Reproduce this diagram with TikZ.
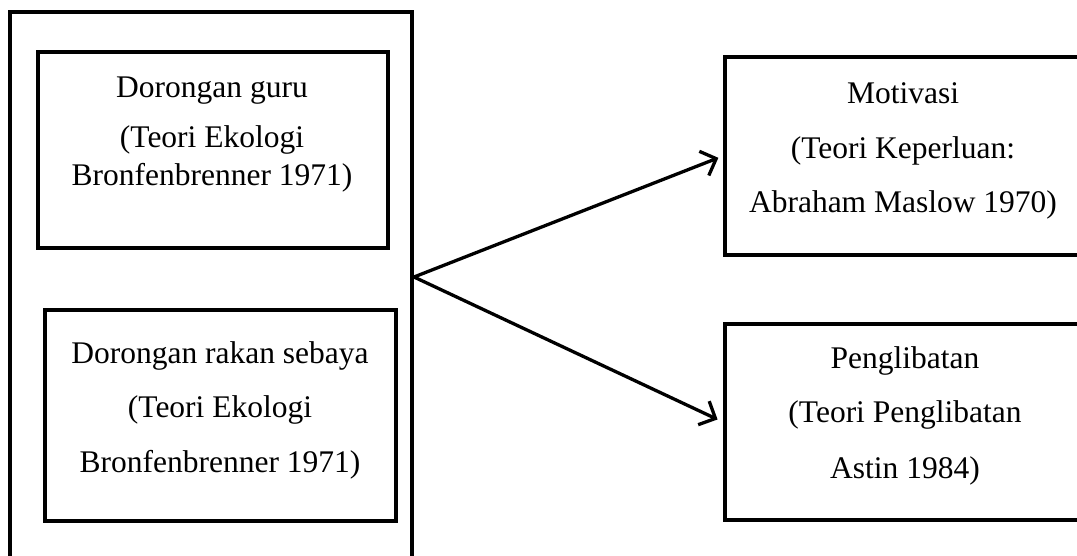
\documentclass[tikz,border=0pt]{standalone}
\usepackage{fontspec}
\setmainfont{Liberation Serif}
\usetikzlibrary{arrows.meta}

\begin{document}
\begin{tikzpicture}[x=1pt, y=-1pt,
    kotak/.style={draw, line width=4pt, rectangle, inner sep=0pt},
    teks/.style={anchor=north, align=center, inner sep=0pt,
      font=\fontsize{31.5}{37.8}\selectfont},
    panah/.style={line width=3.3pt, -{Straight Barb[length=13pt, width=26pt]}},
  ]
  \path[use as bounding box, clip] (0,0) rectangle (1077,556);
  % kotak kiri (terbuka di bawah)
  \node[kotak, minimum width=402pt, minimum height=580pt] (luar) at (211,302) {};
  \node[kotak, minimum width=350pt, minimum height=196pt] (guru) at (213,150) {};
  \node[kotak, minimum width=351pt, minimum height=211pt] (rakan) at (220.5,415.5) {};
  % kotak kanan (terbuka di kanan)
  \node[kotak, minimum width=360pt, minimum height=198pt] (motivasi) at (905,156) {};
  \node[kotak, minimum width=360pt, minimum height=196pt] (libat) at (905,422) {};
  \node[teks] (guruT) at (212,70.5)
    {\strut Dorongan guru\\[13pt] (Teori Ekologi\\ Bronfenbrenner 1971)};
  \node[teks] (rakanT) at (220,336.5)
    {\strut Dorongan rakan sebaya\\[17pt] (Teori Ekologi\\[17pt] Bronfenbrenner 1971)};
  \node[teks] (motivasiT) at (903,76.5)
    {\strut Motivasi\\[18pt] (Teori Keperluan:\\[16pt] Abraham Maslow 1970)};
  \node[teks] (libatT) at (905,341.5)
    {\strut Penglibatan\\[17pt] (Teori Penglibatan\\[18pt] Astin 1984)};
  \coordinate (pangkal) at ([yshift=25pt]luar.east);
  \draw[panah, shorten >=5pt] (pangkal) -- (motivasi.west);
  \draw[panah, shorten >=6pt] (pangkal) -- (libat.west);
\end{tikzpicture}
\end{document}
